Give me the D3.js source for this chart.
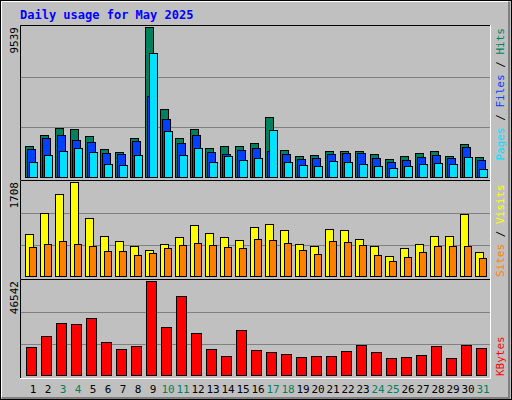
<!DOCTYPE html>
<html><head><meta charset="utf-8">
<script src="https://cdn.jsdelivr.net/npm/d3@7"></script>
<style>body{margin:0;background:#fff}svg{display:block}text{font-family:"DejaVu Sans Mono",monospace}</style>
</head><body><svg id="chart" width="512" height="400"></svg>
<script>
var days = d3.range(1, 32);
var weekends = [3, 4, 10, 11, 17, 18, 24, 25, 31];
var hits = [2000,2700,3090,3030,2580,1800,1610,2510,9539,4320,2450,3030,1870,2000,2000,2190,3800,1740,1350,1420,1680,1680,1680,1480,1160,1350,1550,1680,1350,2130,1290];
var files = [1800,2450,2700,2380,2250,1550,1480,2320,5150,3670,2190,2700,1610,1450,1740,1870,1680,1480,1160,1220,1480,1550,1550,1220,970,1090,1290,1420,1220,1930,1090];
var pages = [970,1420,1680,1870,1610,840,770,1420,7860,2900,1420,1870,970,1350,1090,1220,2960,970,770,710,1030,970,840,710,580,710,840,900,840,1290,520];
var visits = [765,1153,1486,1708,1061,728,635,543,469,580,709,931,783,709,654,894,950,839,580,543,857,839,672,543,358,506,580,728,728,1135,432];
var sites = [524,580,635,580,543,450,450,376,413,506,561,598,561,524,506,672,654,598,469,395,635,617,561,376,265,339,432,543,543,543,321];
var kbytes = [13930,19540,25650,25140,28200,16480,12910,14440,46542,23610,38900,20560,12910,9340,22090,12400,11380,10360,8830,9340,9340,11890,14950,11380,8320,8830,9850,14440,8320,14950,13420];

var svg = d3.select('#chart');
var x = d3.scaleLinear().domain([1, 32]).range([25, 490]);

// background and bevel
svg.append('rect').attr('x', 0.5).attr('y', 0.5).attr('width', 511).attr('height', 399).attr('fill', '#c0c0c0').attr('stroke', '#000');
svg.append('path').attr('d', 'M1.5,397V1.5H508').attr('fill', 'none').attr('stroke', '#fff');
svg.append('path').attr('d', 'M509,2V398H2').attr('fill', 'none').attr('stroke', '#808080').attr('stroke-width', 2);
svg.append('text').attr('x', 20).attr('y', 19).attr('fill', '#0000ff').attr('font-size', 12).attr('font-weight', 'bold').text('Daily usage for May 2025');

function panel(top, bottom, max, label, legend, atTop) {
    var y = d3.scaleLinear().domain([0, max]).range([bottom, top + 2]);
    var g = svg.append('g');
    [max / 3, max * 2 / 3].forEach(function(v) {
        g.append('line').attr('x1', 21).attr('x2', 490).attr('y1', Math.round(y(v)) + 0.5).attr('y2', Math.round(y(v)) + 0.5).attr('stroke', '#808080');
    });
    g.append('path').attr('d', 'M20.5,' + (bottom + 3) + 'V' + (top + 0.5) + 'H490.5').attr('fill', 'none').attr('stroke', '#000');
    g.append('path').attr('d', 'M20,' + (bottom + 3.5) + 'H490.5V' + top).attr('fill', 'none').attr('stroke', '#fff');
    g.append('text').attr('transform', 'translate(18,' + (top + 2) + ') rotate(-90)').attr('text-anchor', 'end').attr('font-size', 11).attr('fill', '#000').text(label);
    var t = g.append('text').attr('font-size', 11)
        .attr('text-anchor', atTop ? 'end' : 'start')
        .attr('transform', 'translate(504,' + (atTop ? top + 3 : bottom + 1) + ') rotate(-90)');
    legend.forEach(function(l, i) {
        if (i) t.append('tspan').attr('fill', '#000').text(' / ');
        t.append('tspan').attr('fill', l[1]).text(l[0]);
    });
    return {g: g, y: y, bottom: bottom};
}

function bars(p, data, dx, w, color) {
    p.g.selectAll(null).data(data).enter().append('rect')
        .attr('x', function(d, i) { return x(days[i]) + dx + 0.5; })
        .attr('y', function(d) { return Math.round(p.y(d)) + 0.5; })
        .attr('width', w)
        .attr('height', function(d) { return p.bottom - Math.round(p.y(d)); })
        .attr('fill', color).attr('stroke', '#000');
}

var p1 = panel(25, 177, 9539, '9539', [['Pages', '#00e0ff'], ['Files', '#0040ff'], ['Hits', '#00805c']], true);
bars(p1, hits, 0, 8, '#00805c');
bars(p1, files, 2, 8, '#0040ff');
bars(p1, pages, 4, 8, '#00e0ff');

var p2 = panel(180, 276, 1708, '1708', [['Sites', '#ff8000'], ['Visits', '#ffff00']], false);
bars(p2, visits, 0, 8, '#ffff00');
bars(p2, sites, 4, 7, '#ff8000');

var p3 = panel(279, 375, 46542, '46542', [['KBytes', '#ff0000']], false);
bars(p3, kbytes, 1, 10, '#ff0000');

svg.selectAll('.day').data(days).enter().append('text')
    .attr('x', function(d) { return x(d) + 8; })
    .attr('y', 393).attr('text-anchor', 'middle').attr('font-size', 11)
    .attr('fill', function(d) { return weekends.indexOf(d) >= 0 ? '#00805c' : '#000'; })
    .text(function(d) { return d; });
</script></body></html>
